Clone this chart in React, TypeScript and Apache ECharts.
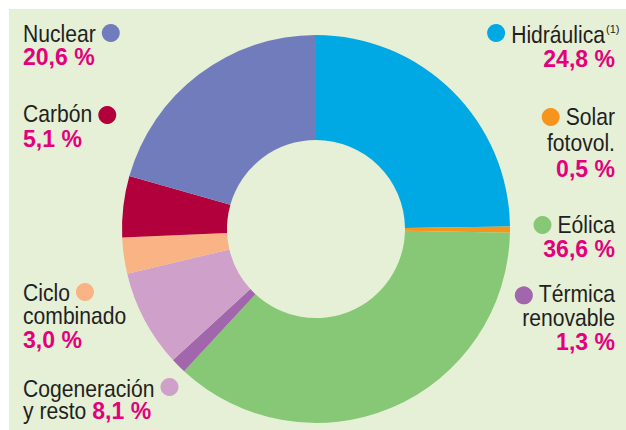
import React, { useEffect, useRef } from "react";
import * as echarts from "echarts";

// ---- data ----
const categories = [
  "Hidráulica",
  "Solar\nfotovol.",
  "Eólica",
  "Térmica\nrenovable",
  "Cogeneración\ny resto",
  "Ciclo\ncombinado",
  "Carbón",
  "Nuclear",
];
const values = [24.8, 0.5, 36.6, 1.3, 8.1, 3.0, 5.1, 20.6];
const colors = [
  "#00a9e3",
  "#f7941d",
  "#86c876",
  "#a166ab",
  "#cfa0ca",
  "#f9b384",
  "#b1003c",
  "#717cbd",
];
const footnoteMarks = ["(1)", "", "", "", "", "", "", ""];

// ---- label layout (positions only) ----
type Layout = {
  x: number;
  align: "left" | "right";
  baselines: number[]; // one per name line, then percent line
  dotY: number;
  inlinePct?: boolean; // percent on same line as last name line
};
const layouts: Layout[] = [
  { x: 605, align: "right", baselines: [43, 67], dotY: 33 },
  { x: 615, align: "right", baselines: [125, 151, 177], dotY: 117 },
  { x: 615, align: "right", baselines: [233, 257], dotY: 225 },
  { x: 615, align: "right", baselines: [302, 326, 350], dotY: 294 },
  { x: 23, align: "left", baselines: [397, 419], dotY: 387, inlinePct: true },
  { x: 23, align: "left", baselines: [301, 324, 348], dotY: 292 },
  { x: 23, align: "left", baselines: [122, 147], dotY: 115 },
  { x: 23, align: "left", baselines: [42, 65], dotY: 33 },
];

const FAMILY = "'Liberation Sans', Arial, sans-serif";
const NAME_FONT = `24px ${FAMILY}`;
const PCT_FONT = `bold 24px ${FAMILY}`;
const NAME_SX = 0.88;
const PCT_SX = 0.96;
const BG = "#e6f0d6";
const TEXT = "#231f20";
const PINK = "#e4007c";

function fmt(v: number) {
  return v.toFixed(1).replace(".", ",") + " %";
}

let ctx: CanvasRenderingContext2D | null = null;
function measure(text: string, font: string) {
  if (!ctx) ctx = document.createElement("canvas").getContext("2d");
  if (!ctx) return text.length * 12;
  ctx.font = font;
  return ctx.measureText(text).width;
}

export default function App() {
  const ref = useRef<HTMLDivElement>(null);
  useEffect(() => {
    if (!ref.current) return;
    const chart = echarts.init(ref.current, undefined, { renderer: "svg" });
    const OFF = 8; // baseline -> middle offset
    const R = 9;
    const GAP = 6;
    const graphics: any[] = [
      {
        type: "rect",
        shape: { x: 9, y: 9, width: 617, height: 421 },
        style: { fill: BG },
        z: -10,
        silent: true,
      },
    ];
    const txt = (
      text: string,
      x: number,
      baseline: number,
      align: string,
      font: string,
      fill: string,
      sx: number
    ) => ({
      type: "text",
      silent: true,
      x,
      y: baseline - OFF,
      scaleX: sx,
      style: { text, x: 0, y: 0, align, verticalAlign: "middle", font, fill },
    });
    categories.forEach((cat, i) => {
      const L = layouts[i];
      const lines = cat.split("\n");
      lines.forEach((ln, j) => {
        graphics.push(txt(ln, L.x, L.baselines[j], L.align, NAME_FONT, TEXT, NAME_SX));
      });
      const firstW = measure(lines[0], NAME_FONT) * NAME_SX;
      if (footnoteMarks[i]) {
        graphics.push({
          type: "text",
          silent: true,
          x: L.x + 1,
          y: L.baselines[0] - 14,
          style: {
            text: footnoteMarks[i],
            x: 0,
            y: 0,
            align: "left",
            verticalAlign: "middle",
            font: `11px ${FAMILY}`,
            fill: TEXT,
          },
        });
      }
      const pct = fmt(values[i]);
      if (L.inlinePct) {
        const last = lines[lines.length - 1] + " ";
        const px = L.x + measure(last, NAME_FONT) * NAME_SX;
        graphics.push(
          txt(pct, px, L.baselines[lines.length - 1], "left", PCT_FONT, PINK, PCT_SX)
        );
      } else {
        const px = L.align === "right" ? 615 : L.x;
        graphics.push(
          txt(pct, px, L.baselines[lines.length], L.align, PCT_FONT, PINK, PCT_SX)
        );
      }
      const cx =
        L.align === "left" ? L.x + firstW + GAP + R : L.x - firstW - GAP - R;
      graphics.push({
        type: "circle",
        silent: true,
        shape: { cx, cy: L.dotY, r: R },
        style: { fill: colors[i] },
      });
    });

    chart.setOption({
      animation: false,
      backgroundColor: "#ffffff",
      graphic: { elements: graphics },
      series: [
        {
          type: "pie",
          center: [316, 229],
          radius: [89, 194],
          startAngle: 90,
          clockwise: true,
          silent: true,
          label: { show: false },
          labelLine: { show: false },
          itemStyle: { borderWidth: 0 },
          emphasis: { disabled: true },
          data: categories.map((c, i) => ({
            name: c.replace("\n", " "),
            value: values[i],
            itemStyle: { color: colors[i] },
          })),
        },
      ],
    });
    return () => chart.dispose();
  }, []);
  return (
    <div
      ref={ref}
      style={{ position: "fixed", left: 0, top: 0, width: 626, height: 430 }}
    />
  );
}
